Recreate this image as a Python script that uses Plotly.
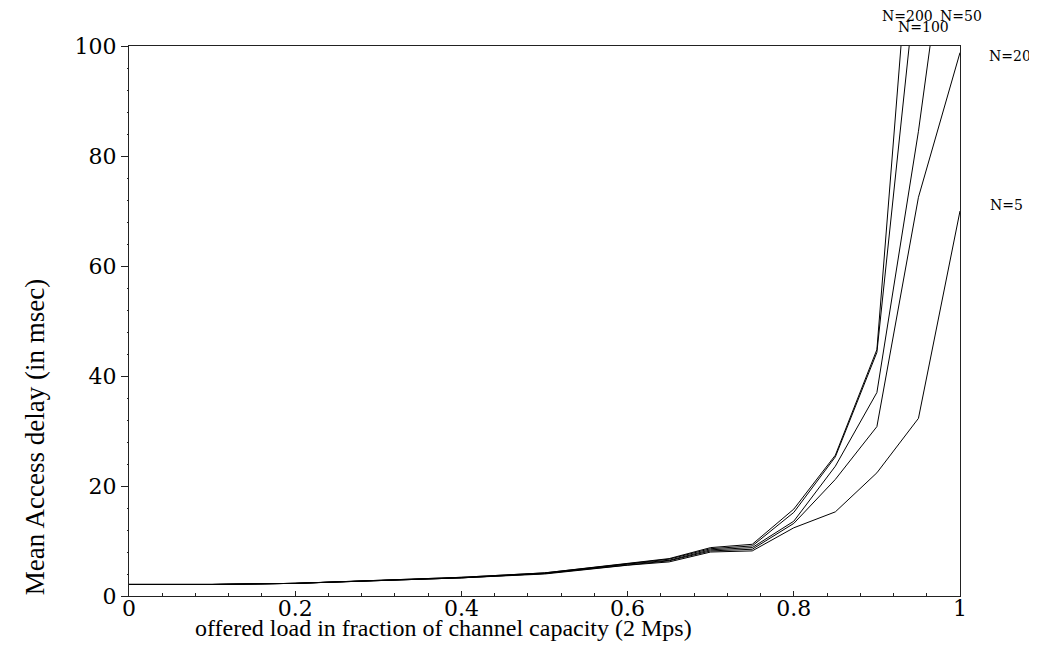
import plotly.graph_objects as go

# offered load (fraction of channel capacity)
load = [0, 0.1, 0.2, 0.3, 0.4, 0.5, 0.6, 0.65, 0.7, 0.75, 0.8, 0.85, 0.9, 0.95, 1.0]

# mean access delay (msec) per number of stations N
delay_n5   = [2.1, 2.1, 2.3, 2.8, 3.3, 4.0, 5.6, 6.2, 8.0, 8.2, 12.4, 15.3, 22.4, 32.3, 70.0]
delay_n20  = [2.1, 2.1, 2.3, 2.8, 3.3, 4.1, 5.7, 6.4, 8.2, 8.5, 13.2, 21.2, 30.8, 72.5, 98.8]
delay_n50  = [2.1, 2.1, 2.3, 2.8, 3.3, 4.1, 5.8, 6.5, 8.4, 8.8, 13.6, 23.6, 37.0, 84.5, 140.0]
delay_n100 = [2.1, 2.1, 2.3, 2.8, 3.4, 4.2, 5.9, 6.7, 8.6, 9.1, 15.2, 25.3, 44.3, 116.0, 170.0]
delay_n200 = [2.1, 2.1, 2.3, 2.9, 3.4, 4.2, 6.0, 6.8, 8.8, 9.4, 15.8, 25.6, 44.8, 140.0, 220.0]

series_names = ["N=5", "N=20", "N=50", "N=100", "N=200"]
series_vals = [delay_n5, delay_n20, delay_n50, delay_n100, delay_n200]

x_tickvals = [0, 0.2, 0.4, 0.6, 0.8, 1.0]
x_ticktext = ["0", "0.2", "0.4", "0.6", "0.8", "1"]
y_tickvals = [0, 20, 40, 60, 80, 100]
y_ticktext = ["0", "20", "40", "60", "80", "100"]

x_title = "offered load in fraction of channel capacity (2 Mps)"
y_title = "Mean Access delay (in msec)"

SERIF = "Liberation Serif, Times New Roman, serif"
WIDE = "DejaVu Serif, serif"
AX = "#222"

fig = go.Figure()
for name, vals in zip(series_names, series_vals):
    fig.add_trace(go.Scatter(x=load, y=vals, mode="lines", name=name,
                             line=dict(color="black", width=1), showlegend=False))

axis_common = dict(showgrid=False, zeroline=False, linecolor=AX, linewidth=1)

# The page body adds an 8px margin, so the figure is sized 8px smaller
fig.update_layout(
    width=1029, height=642,
    margin=dict(l=121, r=77, t=38, b=54),
    paper_bgcolor="white", plot_bgcolor="white",
    showlegend=False,
    xaxis=dict(range=[0, 1], tickvals=x_tickvals, ticktext=x_ticktext,
               ticks="inside", ticklen=5, tickcolor=AX, ticklabelstandoff=-7,
               minor=dict(dtick=0.04, ticks="inside", ticklen=3, tickcolor=AX),
               mirror=True, showline=True,
               tickfont=dict(family=WIDE, size=22, color="black"), **axis_common),
    yaxis=dict(range=[0, 100], tickvals=y_tickvals, ticktext=y_ticktext,
               ticks="outside", ticklen=7, tickcolor=AX,
               minor=dict(dtick=4, ticks="outside", ticklen=1, tickcolor=AX),
               mirror=True, showline=True,
               tickfont=dict(family=WIDE, size=22, color="black"), **axis_common),
    xaxis2=dict(range=[0, 1], overlaying="x", anchor="y", side="bottom",
                tickvals=x_tickvals, ticks="outside", ticklen=5, tickcolor=AX,
                minor=dict(dtick=0.04, ticks="outside", ticklen=2, tickcolor=AX),
                showticklabels=False, showline=False, showgrid=False, zeroline=False),
    yaxis2=dict(range=[0, 100], overlaying="y", anchor="x", side="left",
                tickvals=y_tickvals, ticks="inside", ticklen=7, tickcolor=AX,
                minor=dict(dtick=4, ticks="inside", ticklen=4, tickcolor=AX),
                showticklabels=False, showline=False, showgrid=False, zeroline=False),
)

annos = [
    dict(text=x_title, xref="paper", yref="paper", x=0.378, y=-0.058,
         xanchor="center", yanchor="middle", showarrow=False,
         font=dict(family=SERIF, size=24, color="black")),
    dict(text=y_title, xref="paper", yref="paper", x=-0.113, y=0.289,
         xanchor="center", yanchor="middle", textangle=-90, showarrow=False,
         font=dict(family=SERIF, size=27, color="black")),
    # curve labels
    dict(text="N=200", xref="paper", yref="paper", x=0.9374, y=1.0545),
    dict(text="N=50", xref="paper", yref="paper", x=1.0012, y=1.0545),
    dict(text="N=100", xref="paper", yref="paper", x=0.9555, y=1.0351),
    dict(text="N=20", xref="paper", yref="paper", x=1.060, y=0.982),
    dict(text="N=5", xref="paper", yref="paper", x=1.0562, y=0.711),
]
for a in annos[2:]:
    a.update(xanchor="center", yanchor="middle", showarrow=False,
             font=dict(family=WIDE, size=14, color="black"))
fig.update_layout(annotations=annos)

fig.write_html("out.html")
